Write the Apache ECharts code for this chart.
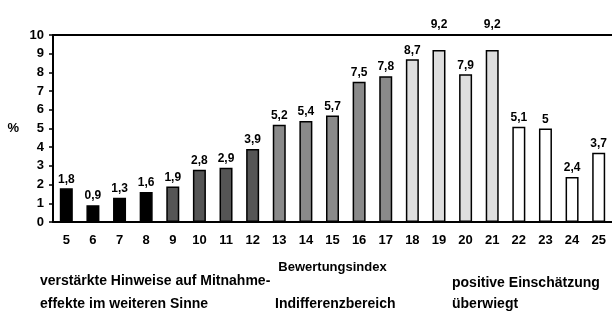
<!DOCTYPE html>
<html>
<head>
<meta charset="utf-8">
<script src="https://cdn.jsdelivr.net/npm/echarts@6/dist/echarts.min.js"></script>
<style>
html,body{margin:0;padding:0;background:#fff;}
#x1{width:612px;height:315px;}
</style>
</head>
<body>
<div id="x1"></div>
<script>
// Bewertungsindex und Anteile in %
var categories = ['5','6','7','8','9','10','11','12','13','14','15','16','17','18','19','20','21','22','23','24','25'];
var values = [1.8, 0.9, 1.3, 1.6, 1.9, 2.8, 2.9, 3.9, 5.2, 5.4, 5.7, 7.5, 7.8, 8.7, 9.2, 7.9, 9.2, 5.1, 5, 2.4, 3.7];
// Gruppe je Balken: 0 schwarz, 1 dunkelgrau, 2 grau, 3 hellgrau, 4 weiss
var groups = [0,0,0,0,1,1,1,1,2,2,2,2,2,3,3,3,3,4,4,4,4];
var groupColors = ['#000000', '#555555', '#8a8a8a', '#dedede', '#ffffff'];
var yTicks = [0,1,2,3,4,5,6,7,8,9,10];

var fontFam = 'Liberation Sans, Arial, sans-serif';

function fmt(v){ return String(v).replace('.', ','); }

function buildData()
{
	var json = [];
	for (var i = 0; i < values.length; i++) {
		var row = {
			value: values[i],
			itemStyle: {color: groupColors[groups[i]]}
		};
		// Werte ueber 9 liegen ueber dem Rahmen
		if (values[i] > 9) {
			row.label = {offset: [0, -16]};
		}
		json.push(row);
	}
	return json;
}

function getChar()
{
	var myChart = echarts.init(document.getElementById('x1'));
	var option1 = {
		animation: false,
		backgroundColor: '#fff',
		grid: {left: 53, right: -1, top: 35, bottom: 93},
		xAxis: [{
			type: 'category',
			data: categories,
			name: 'Bewertungsindex',
			nameLocation: 'middle',
			nameGap: 39,
			nameTextStyle: {fontFamily: fontFam, color: '#000', fontSize: 13, fontWeight: 'bold'},
			axisLine: {lineStyle: {color: '#000', width: 2}},
			axisTick: {show: false},
			axisLabel: {fontFamily: fontFam, color: '#000', fontSize: 13, fontWeight: 'bold', margin: 12, interval: 0}
		}, {
			type: 'category',
			data: categories,
			position: 'top',
			axisLine: {lineStyle: {color: '#000', width: 2}},
			axisTick: {show: false},
			axisLabel: {show: false}
		}],
		yAxis: {
			type: 'value',
			min: yTicks[0],
			max: yTicks[yTicks.length - 1],
			interval: 1,
			name: '%',
			nameLocation: 'middle',
			nameGap: 34,
			nameRotate: 0,
			nameTextStyle: {fontFamily: fontFam, color: '#000', fontSize: 13, fontWeight: 'bold'},
			axisLine: {show: true, lineStyle: {color: '#000', width: 2}},
			axisTick: {show: true, length: 4, lineStyle: {color: '#000', width: 1.5}},
			axisLabel: {fontFamily: fontFam, color: '#000', fontSize: 13, fontWeight: 'bold', margin: 9},
			splitLine: {show: false}
		},
		series: [{
			name: 'Anteil',
			type: 'bar',
			barWidth: 13,
			data: buildData(),
			itemStyle: {borderColor: '#000', borderWidth: 1.5},
			label: {
				show: true,
				position: 'top',
				distance: 3,
				fontFamily: fontFam,
				fontSize: 12,
				fontWeight: 'bold',
				color: '#000',
				formatter: function(p){ return fmt(p.value); }
			}
		}],
		graphic: [
			{type: 'text', left: 40, top: 274, style: {text: 'verstärkte Hinweise auf Mitnahme-', font: 'bold 14px Liberation Sans', fill: '#000'}},
			{type: 'text', left: 40, top: 297, style: {text: 'effekte im weiteren Sinne', font: 'bold 14px Liberation Sans', fill: '#000'}},
			{type: 'text', left: 275, top: 297, style: {text: 'Indifferenzbereich', font: 'bold 14px Liberation Sans', fill: '#000'}},
			{type: 'text', left: 452, top: 276, style: {text: 'positive Einschätzung', font: 'bold 14px Liberation Sans', fill: '#000'}},
			{type: 'text', left: 452, top: 297, style: {text: 'überwiegt', font: 'bold 14px Liberation Sans', fill: '#000'}}
		]
	};
	myChart.setOption(option1);
}

getChar();
</script>
</body>
</html>
